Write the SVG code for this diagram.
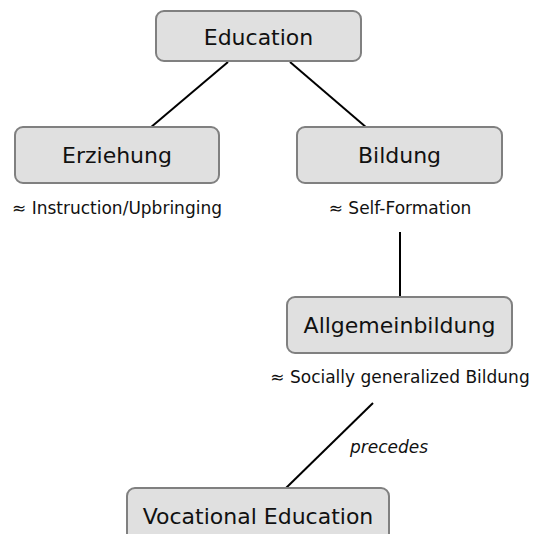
<svg xmlns="http://www.w3.org/2000/svg" width="534" height="534" viewBox="0 0 534 534">
<style>
.node rect{fill:#e0e0e0;stroke:#808080;stroke-width:2}
.node text{font-family:"DejaVu Sans",sans-serif;font-size:22px;fill:#111;text-anchor:middle}
.lbl{font-family:"DejaVu Sans",sans-serif;font-size:17px;fill:#111;text-anchor:middle}
.edges line{stroke:#000;stroke-width:2}
</style>
<rect width="534" height="534" fill="#fff"/>
<g class="edges">
<line x1="228" y1="62" x2="150" y2="128"/>
<line x1="290" y1="62" x2="367" y2="128"/>
<line x1="400" y1="232" x2="400" y2="297"/>
<line x1="373" y1="403" x2="286" y2="488"/>
<text class="lbl" x="389" y="453" font-style="italic">precedes</text>
</g>
<g id="education" class="node"><rect x="156" y="11" width="205" height="50" rx="8"/><text x="258.5" y="45">Education</text></g>
<g id="erziehung" class="node"><rect x="15" y="127" width="204" height="56" rx="8"/><text x="117" y="163">Erziehung</text></g>
<g id="bildung" class="node"><rect x="297" y="127" width="205" height="56" rx="8"/><text x="399.5" y="163">Bildung</text></g>
<g id="allgemeinbildung" class="node"><rect x="287" y="297" width="225" height="56" rx="8"/><text x="399.5" y="333">Allgemeinbildung</text></g>
<g id="vocational" class="node"><rect x="127" y="488" width="262" height="56" rx="8"/><text x="258" y="524">Vocational Education</text></g>
<text class="lbl" x="117" y="214">≈ Instruction/Upbringing</text>
<text class="lbl" x="400" y="214">≈ Self-Formation</text>
<text class="lbl" x="400" y="383">≈ Socially generalized Bildung</text>
</svg>
